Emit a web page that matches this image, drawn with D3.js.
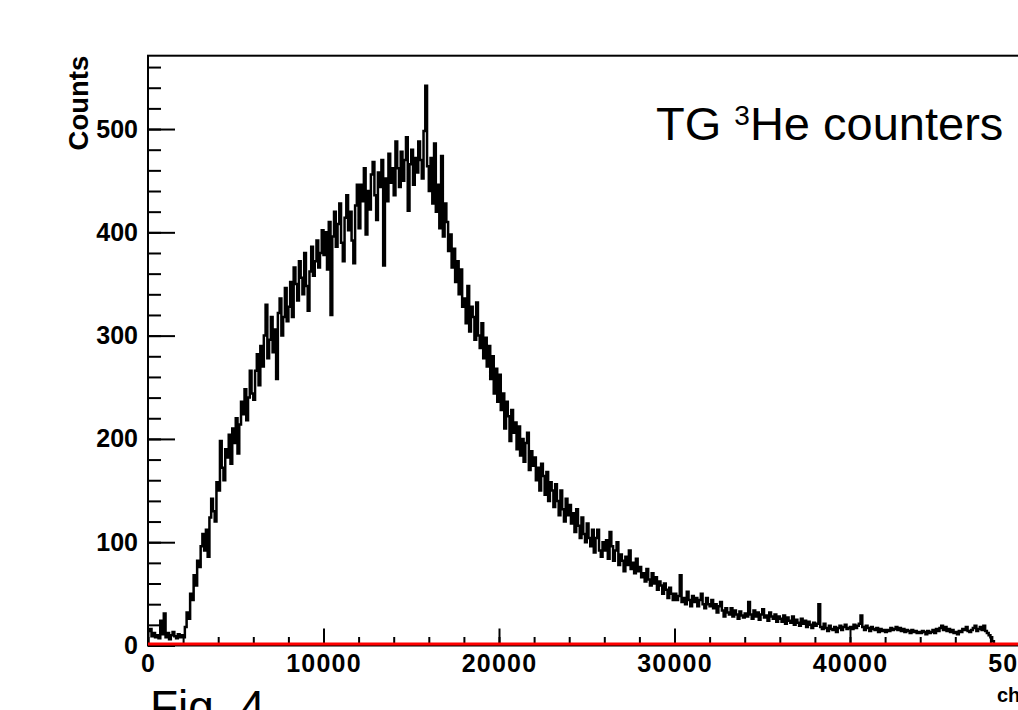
<!DOCTYPE html>
<html>
<head>
<meta charset="utf-8">
<script src="https://cdn.jsdelivr.net/npm/d3@7"></script>
<style>
  body { margin: 0; background: #fff; overflow: hidden; }
  text { font-family: "Liberation Sans", Arial, Helvetica, sans-serif; }
</style>
</head>
<body>
<div id="chart"></div>
<script>
let width = 1018,
    height = 710;

// histogram: bin width in channels, counts per bin starting at channel 0 (20 bins = 2000 ch per row)
const binWidth = 100;
const counts = [
  14, 16, 9, 12, 8, 10, 7, 24, 11, 31, 8, 12, 6, 10, 13, 9, 7, 11, 8, 10,
  8, 18, 32, 26, 50, 44, 68, 58, 82, 76, 96, 108, 92, 112, 86, 124, 142, 130, 120, 158,
  150, 198, 172, 160, 190, 182, 204, 176, 210, 196, 220, 186, 214, 236, 224, 248, 218, 240, 266, 244,
  238, 266, 282, 252, 290, 270, 300, 330, 278, 296, 318, 284, 306, 258, 322, 336, 300, 318, 346, 314,
  328, 352, 318, 366, 350, 334, 372, 356, 340, 380, 348, 324, 362, 386, 358, 372, 392, 366, 380, 402,
  378, 400, 364, 410, 320, 396, 420, 386, 408, 428, 390, 372, 414, 436, 402, 420, 392, 370, 426, 446,
  404, 446, 430, 462, 398, 440, 422, 456, 468, 436, 412, 458, 444, 470, 368, 452, 430, 476, 448, 462,
  436, 488, 462, 444, 478, 450, 470, 492, 421, 466, 480, 446, 472, 458, 488, 470, 452, 498, 542, 464,
  440, 472, 428, 486, 420, 446, 404, 474, 396, 428, 410, 382, 398, 366, 384, 352, 372, 340, 364, 328,
  336, 312, 348, 304, 328, 318, 296, 332, 300, 288, 312, 278, 298, 270, 290, 258, 280, 244, 268, 236,
  262, 228, 244, 210, 236, 222, 198, 228, 206, 216, 190, 212, 184, 200, 178, 196, 206, 170, 188, 174,
  182, 160, 172, 150, 176, 164, 146, 168, 140, 158, 150, 134, 156, 140, 126, 150, 132, 120, 142, 126,
  136, 118, 128, 110, 132, 116, 104, 124, 108, 100, 118, 104, 96, 112, 90, 104, 112, 92, 86, 100,
  92, 102, 84, 110, 96, 82, 92, 100, 78, 88, 82, 72, 86, 78, 92, 74, 80, 70, 84, 72,
  76, 66, 70, 62, 74, 64, 58, 70, 60, 66, 54, 62, 58, 50, 60, 54, 46, 56, 50, 44,
  50, 44, 48, 68, 42, 46, 40, 52, 44, 38, 48, 42, 46, 38, 44, 50, 40, 36, 46, 40,
  38, 44, 36, 40, 32, 38, 42, 34, 28, 36, 32, 30, 36, 28, 34, 30, 26, 33, 29, 27,
  31, 28, 42, 30, 26, 34, 28, 32, 25, 30, 35, 27, 29, 24, 32, 28, 26, 30, 23, 28,
  26, 23, 29, 21, 27, 24, 22, 28, 20, 25, 22, 19, 26, 21, 24, 18, 23, 20, 17, 22,
  19, 21, 40, 18, 16, 21, 17, 14, 19, 16, 15, 18, 13, 17, 19, 15, 18, 20, 16, 17,
  18, 16, 20, 17, 19, 21, 29, 18, 15, 19, 17, 14, 18, 16, 15, 17, 13, 16, 14, 15,
  13, 15, 14, 17, 15, 16, 18, 15, 17, 14, 16, 13, 15, 14, 12, 15, 13, 14, 12, 13,
  12, 14, 13, 11, 14, 12, 13, 15, 12, 16, 14, 17, 19, 15, 18, 14, 16, 13, 15, 12,
  13, 11, 14, 13, 16, 15, 18, 14, 13, 15, 17, 19, 14, 16, 18, 15, 19, 14, 12, 10,
  8, 4
];

const xDomain = [0, 50000];
const yDomain = [0, 571];
const xMajorTicks = [0, 10000, 20000, 30000, 40000, 50000];
const yMajorTicks = [0, 100, 200, 300, 400, 500];
const xMinorStep = 2000;
const yMinorStep = 20;

const svg = d3.select("#chart")
  .append("svg")
  .attr("width", width)
  .attr("height", height);

let x = d3.scaleLinear().domain(xDomain).range([148, 1025.5]);
let y = d3.scaleLinear().domain(yDomain).range([645.5, 55.7]);

// frame (right side falls outside the picture)
svg.append("rect")
  .attr("x", x(0)).attr("y", y(yDomain[1]))
  .attr("width", x(xDomain[1]) - x(0))
  .attr("height", y(0) - y(yDomain[1]))
  .attr("fill", "none")
  .attr("stroke", "#000")
  .attr("stroke-width", 2);

// minor ticks
svg.append("g")
  .attr("transform", `translate(0,${y(0)})`)
  .call(d3.axisBottom(x).tickValues(d3.range(0, xDomain[1] + 1, xMinorStep)).tickSizeInner(-8.5).tickSizeOuter(0).tickFormat(""))
  .call(g => g.select(".domain").remove());

svg.append("g")
  .attr("transform", `translate(${x(0)},0)`)
  .call(d3.axisLeft(y).tickValues(d3.range(0, yDomain[1], yMinorStep)).tickSizeInner(-13).tickSizeOuter(0).tickFormat(""))
  .call(g => g.select(".domain").remove());

// major ticks with labels
svg.append("g")
  .attr("class", "x-axis")
  .attr("transform", `translate(0,${y(0)})`)
  .call(d3.axisBottom(x).tickValues(xMajorTicks).tickSizeInner(-17).tickSizeOuter(0).tickPadding(9).tickFormat(d3.format("d")))
  .call(g => g.select(".domain").remove());

svg.append("g")
  .attr("class", "y-axis")
  .attr("transform", `translate(${x(0)},0)`)
  .call(d3.axisLeft(y).tickValues(yMajorTicks).tickSizeInner(-27).tickSizeOuter(0).tickPadding(10))
  .call(g => g.select(".domain").remove());

svg.selectAll(".tick line").attr("stroke", "#000").attr("stroke-width", 2);
svg.selectAll(".tick text")
  .attr("fill", "#000")
  .attr("font-size", 25)
  .attr("font-weight", "bold")
  .attr("font-family", "Liberation Sans, Arial, sans-serif");
svg.selectAll(".x-axis .tick text").attr("letter-spacing", 1.2);

// histogram drawn as steps
const points = counts.map((c, i) => [i * binWidth, c]);
points.push([counts.length * binWidth, 0]);

svg.append("path")
  .datum(points)
  .attr("fill", "none")
  .attr("stroke", "#000")
  .attr("stroke-width", 2.5)
  .attr("d", d3.line().x(d => x(d[0])).y(d => y(d[1])).curve(d3.curveStepAfter));

// red base line at zero
svg.append("line")
  .attr("x1", x(0)).attr("x2", x(xDomain[1]))
  .attr("y1", y(0) - 1.5).attr("y2", y(0) - 1.5)
  .attr("stroke", "#ff0000")
  .attr("stroke-width", 3);

// axis titles
svg.append("text")
  .attr("transform", `translate(88,${y(yDomain[1])}) rotate(-90)`)
  .attr("text-anchor", "end")
  .attr("font-size", 27.5)
  .attr("font-weight", "bold")
  .text("Counts");

svg.append("text")
  .attr("x", 997).attr("y", 702)
  .attr("font-size", 20)
  .attr("font-weight", "bold")
  .text("channel");

// annotations
const label = svg.append("text")
  .attr("x", 656).attr("y", 140)
  .attr("font-size", 47);
label.append("tspan").text("TG ");
label.append("tspan").attr("font-size", 28).attr("dy", -15).text("3");
label.append("tspan").attr("dy", 15).text("He counters");

svg.append("text")
  .attr("x", 150).attr("y", 723)
  .attr("font-size", 46)
  .text("Fig. 4");
</script>
</body>
</html>
